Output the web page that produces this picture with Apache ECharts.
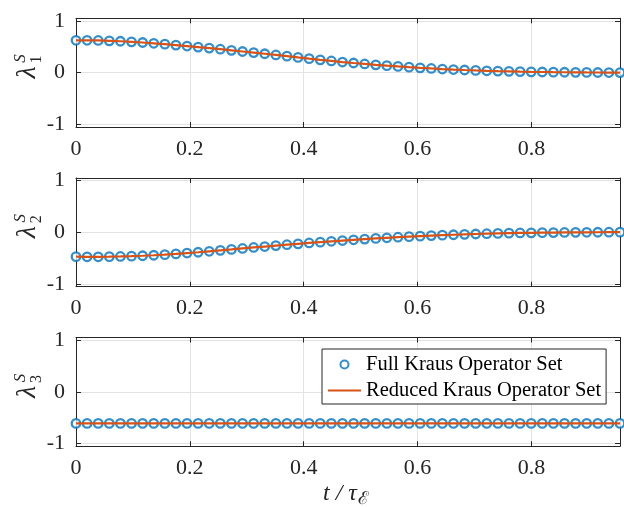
<!DOCTYPE html>
<html><head><meta charset="utf-8">
<script src="https://cdn.jsdelivr.net/npm/echarts@6/dist/echarts.min.js"></script>
<style>html,body{margin:0;padding:0;background:#fff}#c{width:624px;height:507px}</style>
</head><body><div id="c"></div>
<script>
const tValues = [0, 0.0195, 0.039, 0.0585, 0.078, 0.0975, 0.117, 0.1365, 0.156, 0.1755,
  0.195, 0.2145, 0.234, 0.2535, 0.273, 0.2925, 0.312, 0.3315, 0.351, 0.3705,
  0.39, 0.4095, 0.429, 0.4485, 0.468, 0.4875, 0.507, 0.5265, 0.546, 0.5655,
  0.585, 0.6045, 0.624, 0.6435, 0.663, 0.6825, 0.702, 0.7215, 0.741, 0.7605,
  0.78, 0.7995, 0.819, 0.8385, 0.858, 0.8775, 0.897, 0.9165, 0.936, 0.9555];
const lambda1 = [0.625, 0.625, 0.622, 0.615, 0.607, 0.595, 0.582, 0.567, 0.551, 0.533,
  0.514, 0.494, 0.474, 0.453, 0.431, 0.409, 0.387, 0.365, 0.342, 0.319,
  0.294, 0.270, 0.247, 0.226, 0.205, 0.186, 0.168, 0.151, 0.135, 0.120,
  0.106, 0.093, 0.081, 0.070, 0.060, 0.051, 0.043, 0.036, 0.030, 0.025,
  0.020, 0.016, 0.013, 0.010, 0.008, 0.006, 0.004, 0.003, 0.002, 0.001];
const lambda2 = [-0.470, -0.472, -0.472, -0.470, -0.466, -0.460, -0.452, -0.442, -0.431, -0.416,
  -0.400, -0.384, -0.366, -0.348, -0.330, -0.311, -0.292, -0.274, -0.256, -0.239,
  -0.222, -0.205, -0.189, -0.173, -0.158, -0.144, -0.130, -0.117, -0.105, -0.094,
  -0.083, -0.073, -0.063, -0.054, -0.046, -0.039, -0.032, -0.026, -0.021, -0.016,
  -0.012, -0.009, -0.006, -0.004, -0.002, 0.000, 0.001, 0.002, 0.003, 0.004];
const lambda3 = [-0.61, -0.61, -0.61, -0.61, -0.61, -0.61, -0.61, -0.61, -0.61, -0.61,
  -0.61, -0.61, -0.61, -0.61, -0.61, -0.61, -0.61, -0.61, -0.61, -0.61,
  -0.61, -0.61, -0.61, -0.61, -0.61, -0.61, -0.61, -0.61, -0.61, -0.61,
  -0.61, -0.61, -0.61, -0.61, -0.61, -0.61, -0.61, -0.61, -0.61, -0.61,
  -0.61, -0.61, -0.61, -0.61, -0.61, -0.61, -0.61, -0.61, -0.61, -0.61];
const xTicks = [0, 0.2, 0.4, 0.6, 0.8];
const yTicks = [-1, 0, 1];
const seriesNames = ['Full Kraus Operator Set', 'Reduced Kraus Operator Set'];
const subLabels = ['1', '2', '3'];

const FONT = 'Liberation Serif';
const AX = '#262626';
const gridTops = [18.3, 178, 337.5];
const gridH = 108.7;
const panels = [lambda1, lambda2, lambda3];

const grids = [], xAxes = [], yAxes = [], series = [];
gridTops.forEach((top, i) => {
  grids.push({left: 76, width: 544, top: top, height: gridH, containLabel: false});
  ['bottom', 'top'].forEach(pos => {
    const main = pos === 'bottom';
    xAxes.push({gridIndex: i, type: 'value', min: 0, max: 0.9555, position: pos,
      axisLine: {show: true, onZero: false, lineStyle: {color: AX, width: 1}},
      axisTick: {show: true, inside: true, length: 5, customValues: xTicks, lineStyle: {color: AX, width: 1}},
      axisLabel: {show: main, customValues: xTicks, fontFamily: FONT, fontSize: 22, color: AX, margin: 11},
      splitLine: {show: main, lineStyle: {color: '#e3e3e3', width: 1}}
    });
  });
  ['left', 'right'].forEach(pos => {
    const main = pos === 'left';
    yAxes.push({gridIndex: i, type: 'value', min: -1.05, max: 1.05, position: pos,
      axisLine: {show: true, onZero: false, lineStyle: {color: AX, width: 1}},
      axisTick: {show: true, inside: true, length: 5, customValues: yTicks, lineStyle: {color: AX, width: 1}},
      axisLabel: {show: main, customValues: yTicks, fontFamily: FONT, fontSize: 22, color: AX, margin: 11},
      splitLine: {show: main, lineStyle: {color: '#e3e3e3', width: 1}}
    });
  });
  const pts = tValues.map((t, k) => [t, panels[i][k]]);
  series.push({name: seriesNames[0], type: 'scatter', xAxisIndex: 2 * i, yAxisIndex: 2 * i,
    symbol: 'circle', symbolSize: 8.5, z: 2,
    itemStyle: {color: '#ffffff', borderColor: '#0072BD', borderWidth: 2.3},
    data: pts});
  series.push({name: seriesNames[1], type: 'line', xAxisIndex: 2 * i, yAxisIndex: 2 * i,
    symbol: 'none', z: 3, lineStyle: {color: '#D95319', width: 2.2},
    itemStyle: {color: '#D95319'}, data: pts});
});

const zeroY = [72.5, 232.3, 392];
const graphics = [];
zeroY.forEach((cy, i) => {
  graphics.push({type: 'text', x: 27.5, y: cy, rotation: Math.PI / 2,
    style: {text: 'λ', font: 'italic 28px "Liberation Serif"', fill: AX, align: 'center', verticalAlign: 'middle'}});
  graphics.push({type: 'text', x: 21, y: cy - 14, rotation: Math.PI / 2,
    style: {text: 'S', font: 'italic 17px "Liberation Serif"', fill: AX, align: 'center', verticalAlign: 'middle'}});
  graphics.push({type: 'text', x: 37, y: cy - 13, rotation: Math.PI / 2,
    style: {text: subLabels[i], font: '16px "Liberation Serif"', fill: AX, align: 'center', verticalAlign: 'middle'}});
});
graphics.push({type: 'text', x: 340, y: 494,
  style: {text: 't / τ', font: 'italic 24px "Liberation Serif"', fill: AX, align: 'center', verticalAlign: 'middle'}});
graphics.push({type: 'text', x: 363, y: 499,
  style: {text: 'ℰ', font: '18px "DejaVu Serif"', fill: AX, align: 'center', verticalAlign: 'middle'}});

const chart = echarts.init(document.getElementById('c'), null, {renderer: 'canvas'});
chart.setOption({
  animation: false,
  backgroundColor: '#ffffff',
  grid: grids, xAxis: xAxes, yAxis: yAxes, series: series,
  legend: {
    data: [{name: seriesNames[0]}, {name: seriesNames[1], itemStyle: {opacity: 0}}],
    orient: 'vertical', left: 322, top: 349,
    padding: [5, 5, 3, 5], itemGap: 5, itemWidth: 33, itemHeight: 8,
    backgroundColor: '#ffffff', borderColor: AX, borderWidth: 1,
    textStyle: {fontFamily: FONT, fontSize: 20.5, color: '#000', lineHeight: 20}
  },
  graphic: graphics
});
</script></body></html>
